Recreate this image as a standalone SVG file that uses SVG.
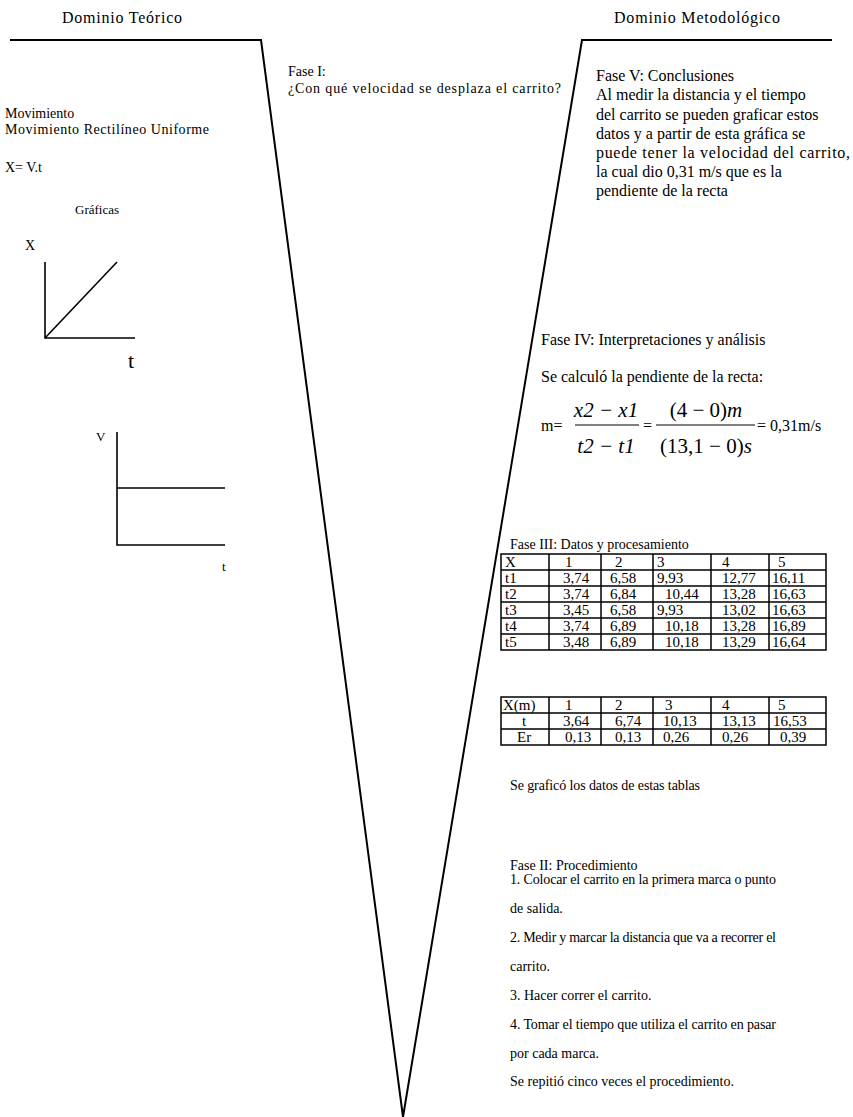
<svg xmlns="http://www.w3.org/2000/svg" width="853" height="1117" viewBox="0 0 853 1117">
<style>
text{font-family:"Liberation Serif","Times New Roman",serif;fill:#000}
.t13{font-size:13px}
.t14{font-size:14px}
.t15{font-size:15px}
.t16{font-size:16px}
.ln{stroke:#000;stroke-width:2;fill:none}
.ax{stroke:#000;stroke-width:1.6;fill:none}
.tb{stroke:#000;stroke-width:1.5;fill:none}
.it{font-style:italic;font-size:21px}
.fr{font-size:21px}
</style>
<rect width="853" height="1117" fill="#fff"/>
<g id="vee">
<polyline class="ln" points="10,40 261,40 403,1117 582,40 832,40"/>
</g>
<g id="headers">
<text class="t16" x="122" y="23" text-anchor="middle" textLength="120">Dominio Teórico</text>
<text class="t16" x="697" y="23" text-anchor="middle" textLength="166">Dominio Metodológico</text>
</g>
<g id="fase1">
<text class="t14" x="288" y="76">Fase I:</text>
<text class="t14" x="288" y="93" textLength="273">¿Con qué velocidad se desplaza el carrito?</text>
</g>
<g id="teorico">
<text class="t14" x="5" y="118">Movimiento</text>
<text class="t14" x="5" y="134" textLength="204">Movimiento Rectilíneo Uniforme</text>
<text class="t14" x="5" y="172">X= V.t</text>
<text class="t13" x="75" y="214">Gráficas</text>
</g>
<g id="graph-xt">
<text class="t14" x="25" y="250">X</text>
<polyline class="ax" points="45,262 45,338 135,338"/>
<line class="ax" x1="45" y1="338" x2="117" y2="262"/>
<text x="128" y="368" style="font-size:22px">t</text>
</g>
<g id="graph-vt">
<text class="t13" x="96" y="441">V</text>
<polyline class="ax" points="117,432 117,545 225,545"/>
<line class="ax" x1="117" y1="488" x2="225" y2="488"/>
<text class="t13" x="222" y="571">t</text>
</g>
<g id="fase5">
<text class="t16" x="596" y="81">Fase V: Conclusiones</text>
<text class="t16" x="596" y="100"> Al medir la distancia y el tiempo</text>
<text class="t16" x="596" y="120">del carrito se pueden graficar estos</text>
<text class="t16" x="596" y="139">datos y a partir de esta gráfica se</text>
<text class="t16" x="596" y="158" textLength="254">puede tener la velocidad del carrito,</text>
<text class="t16" x="596" y="177">la cual dio 0,31 m/s que es la</text>
<text class="t16" x="596" y="196">pendiente de la recta</text>
</g>
<g id="fase4">
<text class="t16" x="541" y="345">Fase IV: Interpretaciones y análisis</text>
<text class="t16" x="541" y="382">Se calculó la pendiente de la recta:</text>
<text class="t16" x="541" y="431">m=</text>
<text class="it" x="606" y="417" text-anchor="middle">x2 − x1</text>
<line x1="575" y1="425" x2="639" y2="425" stroke="#000" stroke-width="1"/>
<text class="it" x="606" y="453" text-anchor="middle">t2 − t1</text>
<text class="t16" x="643" y="431">=</text>
<text class="fr" x="706" y="417" text-anchor="middle">(4 − 0)<tspan font-style="italic">m</tspan></text>
<line x1="656" y1="425" x2="755" y2="425" stroke="#000" stroke-width="1"/>
<text class="fr" x="706" y="453" text-anchor="middle">(13,1 − 0)<tspan font-style="italic">s</tspan></text>
<text class="t16" x="757" y="431">= 0,31m/s</text>
</g>
<g id="fase3">
<text class="t14" x="510" y="549">Fase III: Datos y procesamiento</text>
<g id="tabla1">
<rect class="tb" x="501" y="554" width="325" height="96"/>
<path class="tb" d="M501,570H826M501,586H826M501,602H826M501,618H826M501,634H826M549,554V650M601,554V650M653,554V650M711,554V650M769,554V650"/>
<g class="t15">
<text x="505" y="567">X</text><text x="565" y="567">1</text><text x="615" y="567">2</text><text x="657" y="567">3</text><text x="722" y="567">4</text><text x="778" y="567">5</text>
<text x="505" y="583">t1</text><text x="563" y="583">3,74</text><text x="610" y="583">6,58</text><text x="657" y="583">9,93</text><text x="722" y="583">12,77</text><text x="772" y="583">16,11</text>
<text x="505" y="599">t2</text><text x="563" y="599">3,74</text><text x="610" y="599">6,84</text><text x="665" y="599">10,44</text><text x="722" y="599">13,28</text><text x="772" y="599">16,63</text>
<text x="505" y="615">t3</text><text x="563" y="615">3,45</text><text x="610" y="615">6,58</text><text x="657" y="615">9,93</text><text x="722" y="615">13,02</text><text x="772" y="615">16,63</text>
<text x="505" y="631">t4</text><text x="563" y="631">3,74</text><text x="610" y="631">6,89</text><text x="665" y="631">10,18</text><text x="722" y="631">13,28</text><text x="772" y="631">16,89</text>
<text x="505" y="647">t5</text><text x="563" y="647">3,48</text><text x="610" y="647">6,89</text><text x="665" y="647">10,18</text><text x="722" y="647">13,29</text><text x="772" y="647">16,64</text>
</g>
</g>
<g id="tabla2">
<rect class="tb" x="501" y="697" width="325" height="48"/>
<path class="tb" d="M501,713H826M501,729H826M549,697V745M601,697V745M653,697V745M711,697V745M769,697V745"/>
<g class="t15">
<text x="503" y="710">X(m)</text><text x="565" y="710">1</text><text x="615" y="710">2</text><text x="665" y="710">3</text><text x="722" y="710">4</text><text x="778" y="710">5</text>
<text x="522" y="726">t</text><text x="563" y="726">3,64</text><text x="615" y="726">6,74</text><text x="663" y="726">10,13</text><text x="722" y="726">13,13</text><text x="773" y="726">16,53</text>
<text x="517" y="742">Er</text><text x="565" y="742">0,13</text><text x="615" y="742">0,13</text><text x="663" y="742">0,26</text><text x="722" y="742">0,26</text><text x="780" y="742">0,39</text>
</g>
</g>
<text class="t14" x="510" y="790" textLength="190">Se graficó los datos de estas tablas</text>
</g>
<g id="fase2">
<text class="t14" x="510" y="870">Fase II: Procedimiento</text>
<text class="t14" x="510" y="884" textLength="266">1. Colocar el carrito en la primera marca o punto</text>
<text class="t14" x="510" y="913">de salida.</text>
<text class="t14" x="510" y="942" textLength="266">2. Medir y marcar la distancia  que va a recorrer el</text>
<text class="t14" x="510" y="971">carrito.</text>
<text class="t14" x="510" y="1000">3. Hacer correr el carrito.</text>
<text class="t14" x="510" y="1029" textLength="266">4. Tomar el tiempo que utiliza el carrito en pasar</text>
<text class="t14" x="510" y="1058">por cada marca.</text>
<text class="t14" x="510" y="1086">Se repitió cinco veces el procedimiento.</text>
</g>
</svg>
